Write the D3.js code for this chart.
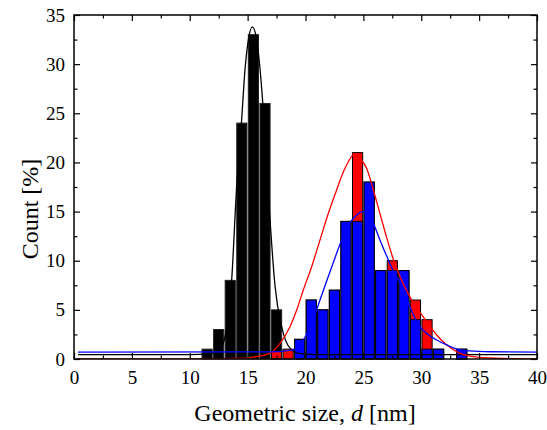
<!DOCTYPE html>
<html><head><meta charset="utf-8">
<script src="https://cdn.jsdelivr.net/npm/d3@7"></script>
<style>body{margin:0;background:#fff}svg{display:block}text{font-family:'Liberation Serif','Times New Roman',serif}</style>
</head><body>
<svg id="c" width="547" height="430"></svg>
<script>
// Histogram bins: [bin start (nm), count %], bin width 1 nm
const blackBars = [[11,1],[12,3],[13,8],[14,24],[15,33],[16,26],[17,5]];
const redBars = [[17,0.8],[18,1],[19,2],[20,6],[21,5],[22,7],[23,14],[24,21],[25,18],[26,9],[27,10],[28,9],[29,6],[30,4],[31,1],[33,1]];
const blueBars = [[19,2],[20,6],[21,5],[22,7],[23,14],[24,14],[25,18],[26,9],[27,9],[28,9],[29,4],[30,1],[31,1],[33,1]];
// Fit curves: [d, count %]
const blackFit = [[0.35,0.45],[10,0.45],[11.75,0.55],[12.61,0.9],[13.19,3.3],[13.62,8.0],[14.05,17.5],[14.48,24.3],[14.77,29.4],[15.06,32.45],[15.41,33.8],[15.79,32.45],[16.08,29.4],[16.31,26.0],[16.59,20.9],[16.94,14.1],[17.37,7.4],[17.94,3.3],[18.66,1.1],[19.5,0.55],[21,0.45],[40,0.45]];
const redFit = [[0.35,0],[12,0.01],[14,0.05],[15.5,0.2],[16.93,0.6],[17.8,1.6],[18.66,3.29],[19.24,4.98],[19.81,7.02],[20.53,9.39],[21.25,12.1],[21.97,14.8],[22.69,17.2],[23.41,19.4],[24.28,20.9],[24.71,20.4],[25.28,19.4],[25.86,17.2],[26.43,14.8],[27.0,12.4],[27.6,10.1],[28.31,8.0],[29.03,6.3],[29.75,5.0],[30.47,3.8],[31.33,2.44],[32.2,1.43],[33.35,0.58],[34.2,0.3],[36,0.1],[38,0.03],[40,0.01]];
const blueFit = [[0.35,0.7],[17,0.72],[18.95,0.92],[19.81,1.93],[20.67,3.97],[21.25,6.0],[21.97,8.4],[22.69,10.75],[23.12,12.1],[23.56,13.4],[24.13,14.3],[24.71,14.9],[25.0,15.0],[25.28,14.8],[25.86,13.8],[26.43,12.1],[27.0,10.5],[27.6,8.9],[28.31,7.4],[29.03,5.3],[29.75,3.5],[30.47,2.6],[31.33,1.93],[32.2,1.43],[33.35,0.92],[34.2,0.82],[36,0.74],[40,0.7]];
const xTicks = [0,5,10,15,20,25,30,35,40];
const yTicks = [0,5,10,15,20,25,30,35];
const xMinor = [2.5,7.5,12.5,17.5,22.5,27.5,32.5,37.5];
const yMinor = [2.5,7.5,12.5,17.5,22.5,27.5,32.5];
const binWidth = 1;

const svg = d3.select("#c");
const L=74, R=537, T=15, B=359;
const x = d3.scaleLinear().domain([0,40]).range([L,R]);
const y = d3.scaleLinear().domain([0,35]).range([B,T]);
const font = "'Liberation Serif','Times New Roman',serif";

svg.append("defs").append("clipPath").attr("id","pc")
  .append("rect").attr("x",L).attr("y",T).attr("width",R-L).attr("height",B-T);

function bars(data, fill, stroke){
  svg.append("g").selectAll("rect").data(data).join("rect")
    .attr("x", d=>x(d[0])+0.7)
    .attr("width", d=>x(d[0]+binWidth)-x(d[0])-1.4)
    .attr("y", d=>y(d[1]))
    .attr("height", d=>B-y(d[1]))
    .attr("fill", fill).attr("stroke", stroke).attr("stroke-width",1);
}
bars(blackBars,"#000","#222");
bars(redBars,"#ff0000","#000");
bars(blueBars,"#0000ff","#000");

const line = d3.line().x(d=>x(d[0])).y(d=>y(d[1])).curve(d3.curveMonotoneX);
const g = svg.append("g").attr("clip-path","url(#pc)");
g.append("path").datum(blackFit).attr("d",line).attr("fill","none").attr("stroke","#000").attr("stroke-width",1.3);
g.append("path").datum(redFit).attr("d",line).attr("fill","none").attr("stroke","#ff0000").attr("stroke-width",1.3);
g.append("path").datum(blueFit).attr("d",line).attr("fill","none").attr("stroke","#0000ff").attr("stroke-width",1.3);

// frame
svg.append("rect").attr("x",L).attr("y",T).attr("width",R-L).attr("height",B-T)
  .attr("fill","none").attr("stroke","#000").attr("stroke-width",1.5);

// axes with inward ticks
function styleAxis(sel){ sel.attr("font-family",null); sel.select(".domain").remove(); sel.selectAll("line").attr("stroke","#000").attr("stroke-width",1.2); }
const fmt = d3.format("d");
function labels(s){ s.selectAll("text").style("font-family",font).style("font-size","19px").attr("fill","#000"); }
svg.append("g").attr("transform",`translate(0,${B})`)
  .call(d3.axisBottom(x).tickValues(xTicks).tickSizeInner(-6).tickSizeOuter(0).tickPadding(12).tickFormat(fmt))
  .call(styleAxis).call(labels);
svg.append("g").attr("transform",`translate(0,${B})`)
  .call(d3.axisBottom(x).tickValues(xMinor).tickSizeInner(-3.5).tickSizeOuter(0).tickFormat(""))
  .call(styleAxis);
svg.append("g").attr("transform",`translate(0,${T})`)
  .call(d3.axisTop(x).tickValues(xTicks).tickSizeInner(-6).tickSizeOuter(0).tickFormat(""))
  .call(styleAxis);
svg.append("g").attr("transform",`translate(0,${T})`)
  .call(d3.axisTop(x).tickValues(xMinor).tickSizeInner(-3.5).tickSizeOuter(0).tickFormat(""))
  .call(styleAxis);
svg.append("g").attr("transform",`translate(${L},0)`)
  .call(d3.axisLeft(y).tickValues(yTicks).tickSizeInner(-6).tickSizeOuter(0).tickPadding(9).tickFormat(fmt))
  .call(styleAxis).call(labels);
svg.append("g").attr("transform",`translate(${L},0)`)
  .call(d3.axisLeft(y).tickValues(yMinor).tickSizeInner(-3.5).tickSizeOuter(0).tickFormat(""))
  .call(styleAxis);
svg.append("g").attr("transform",`translate(${R},0)`)
  .call(d3.axisRight(y).tickValues(yTicks).tickSizeInner(-6).tickSizeOuter(0).tickFormat(""))
  .call(styleAxis);
svg.append("g").attr("transform",`translate(${R},0)`)
  .call(d3.axisRight(y).tickValues(yMinor).tickSizeInner(-3.5).tickSizeOuter(0).tickFormat(""))
  .call(styleAxis);

// titles
const xt = svg.append("text").attr("x",305).attr("y",421).attr("text-anchor","middle")
  .style("font-family",font).style("font-size","24px").attr("fill","#000");
xt.append("tspan").text("Geometric size, ");
xt.append("tspan").attr("font-style","italic").text("d");
xt.append("tspan").text(" [nm]");
svg.append("text").attr("transform",`translate(38,${(T+B)/2 + 22}) rotate(-90)`).attr("text-anchor","middle")
  .style("font-family",font).style("font-size","24px").attr("fill","#000").text("Count [%]");
</script>
</body></html>
